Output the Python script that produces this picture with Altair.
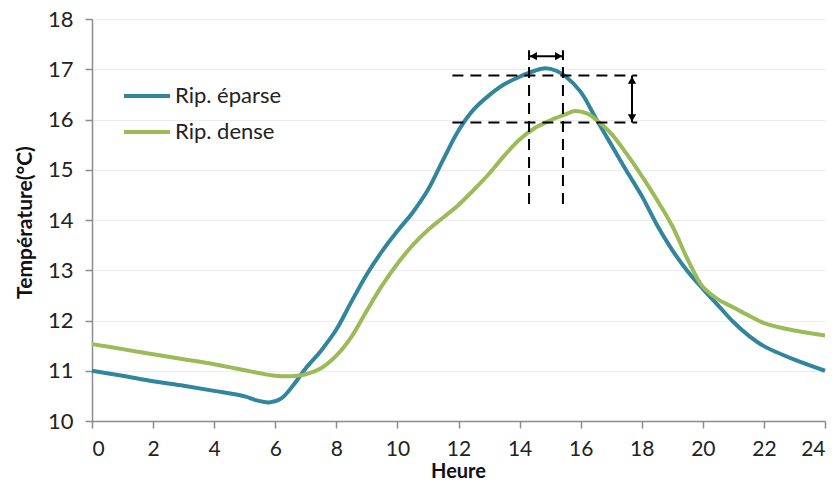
import altair as alt
import pandas as pd

# ---- data ----
hours_eparse = [0, 1, 2, 3, 4, 5, 5.4, 5.8, 6.2, 6.6, 7, 7.5, 8, 8.5, 9, 9.5, 10, 10.5, 11, 11.5,
                12, 12.5, 13, 13.5, 14, 14.5, 14.85, 15.2, 15.5, 16, 16.5, 17, 17.5, 18, 18.5, 19,
                19.5, 20, 20.5, 21, 21.5, 22, 23, 24]
temp_eparse = [11.0, 10.9, 10.79, 10.7, 10.6, 10.49, 10.41, 10.37, 10.45, 10.72, 11.05, 11.4, 11.82,
               12.38, 12.92, 13.38, 13.78, 14.15, 14.6, 15.2, 15.78, 16.2, 16.48, 16.7, 16.85,
               16.97, 17.02, 16.97, 16.86, 16.55, 16.02, 15.5, 14.98, 14.48, 13.9, 13.4, 12.98, 12.63,
               12.3, 11.97, 11.7, 11.49, 11.22, 11.0]

hours_dense = [0, 1, 2, 3, 4, 5, 5.5, 6, 6.5, 7, 7.5, 8, 8.5, 9, 9.5, 10, 10.5, 11, 11.5, 12, 12.5,
               13, 13.5, 14, 14.5, 15, 15.5, 15.8, 16.2, 16.5, 17, 17.5, 18, 18.5, 19, 19.5, 20,
               20.5, 21, 21.5, 22, 23, 24]
temp_dense = [11.53, 11.43, 11.33, 11.23, 11.13, 11.01, 10.95, 10.9, 10.89, 10.93, 11.05, 11.3, 11.68,
              12.2, 12.7, 13.13, 13.5, 13.8, 14.05, 14.3, 14.6, 14.92, 15.28, 15.6, 15.83, 15.98,
              16.1, 16.17, 16.12, 16.0, 15.72, 15.32, 14.88, 14.4, 13.88, 13.22, 12.67, 12.42, 12.26,
              12.1, 11.95, 11.8, 11.7]

series_names = ["Rip. éparse", "Rip. dense"]
series_colors = ["#31859C", "#9BBB59"]

# annotation (data units)
hdash_y = [16.875, 15.94]
hdash_x = [11.8, 17.85]
vdash_x = [14.31, 15.42]
vdash_y = [14.32, 17.38]
harrow_y = 17.26
varrow_x = 17.68

rows = []
for h, t in zip(hours_eparse, temp_eparse):
    rows.append({"Heure": h, "T": t, "serie": series_names[0]})
for h, t in zip(hours_dense, temp_dense):
    rows.append({"Heure": h, "T": t, "serie": series_names[1]})
df = pd.DataFrame(rows)

xscale = alt.Scale(domain=[0, 24], nice=False, zero=False)
yscale = alt.Scale(domain=[10, 18], nice=False, zero=False)

lines = alt.Chart(df).mark_line(strokeWidth=4, interpolate="catmull-rom").encode(
    x=alt.X("Heure:Q", scale=xscale,
            axis=alt.Axis(title="Heure", values=list(range(0, 25)),
                          labelExpr="datum.value % 2 == 0 ? datum.label : ''",
                          grid=False, tickSize=7, labelPadding=10, labelFontSize=21,
                          titleX=366, titleY=50, titleBaseline="middle", titleFontSize=20)),
    y=alt.Y("T:Q", scale=yscale,
            axis=alt.Axis(title="Température(°C)", values=list(range(10, 19)),
                          grid=True, tickSize=7, labelPadding=12,
                          titleX=-67, titleY=203, titleBaseline="middle", titleAlign="center")),
    color=alt.Color("serie:N", scale=alt.Scale(domain=series_names, range=series_colors),
                    sort=series_names,
                    legend=alt.Legend(title=None, orient="none", legendX=30, legendY=52,
                                      symbolType="stroke", symbolStrokeWidth=4, symbolSize=2116,
                                      labelFontSize=22, labelFont="Lato", labelOffset=3,
                                      rowPadding=-3, labelColor="#222222")),
    detail="serie:N",
)

hd = pd.DataFrame({"y": hdash_y, "x1": [hdash_x[0]] * 2, "x2": [hdash_x[1]] * 2})
hdash = alt.Chart(hd).mark_rule(color="black", strokeWidth=2, strokeDash=[11, 7]).encode(
    x=alt.X("x1:Q", scale=xscale), x2="x2:Q", y=alt.Y("y:Q", scale=yscale))

vd = pd.DataFrame({"x": vdash_x, "y1": [vdash_y[0]] * 2, "y2": [vdash_y[1]] * 2})
vdash = alt.Chart(vd).mark_rule(color="black", strokeWidth=2, strokeDash=[11, 7]).encode(
    x=alt.X("x:Q", scale=xscale), y=alt.Y("y1:Q", scale=yscale), y2="y2:Q")

ha = pd.DataFrame({"y": [harrow_y], "x1": [vdash_x[0]], "x2": [vdash_x[1]]})
harrow = alt.Chart(ha).mark_rule(color="black", strokeWidth=2).encode(
    x=alt.X("x1:Q", scale=xscale), x2="x2:Q", y=alt.Y("y:Q", scale=yscale))
va = pd.DataFrame({"x": [varrow_x], "y1": [hdash_y[1]], "y2": [hdash_y[0]]})
varrow = alt.Chart(va).mark_rule(color="black", strokeWidth=2).encode(
    x=alt.X("x:Q", scale=xscale), y=alt.Y("y1:Q", scale=yscale), y2="y2:Q")

heads = pd.DataFrame({
    "x": [vdash_x[0] + 0.14, vdash_x[1] - 0.14, varrow_x, varrow_x],
    "y": [harrow_y, harrow_y, hdash_y[0] - 0.09, hdash_y[1] + 0.09],
    "shape": ["triangle-left", "triangle-right", "triangle-up", "triangle-down"],
})
arrowheads = alt.Chart(heads).mark_point(filled=True, color="black", opacity=1, size=70).encode(
    x=alt.X("x:Q", scale=xscale), y=alt.Y("y:Q", scale=yscale),
    shape=alt.Shape("shape:N", scale=None, legend=None))

chart = alt.layer(lines, hdash, vdash, harrow, varrow, arrowheads).properties(
    width=733, height=402,
    autosize=alt.AutoSizeParams(type="none"),
    padding={"left": 92, "top": 19, "right": 15, "bottom": 60},
).configure_view(stroke=None).configure_axis(
    labelFont="Lato", labelFontSize=22, labelColor="#222222",
    titleFont="Lato", titleFontSize=21, titleFontWeight="bold", titleColor="#111111",
    domainColor="#8c8c8c", tickColor="#8c8c8c", gridColor="#ececec", domainWidth=1.5, tickWidth=1.5,
)

chart.save("out.html", embed_options={"renderer": "svg", "actions": False})
